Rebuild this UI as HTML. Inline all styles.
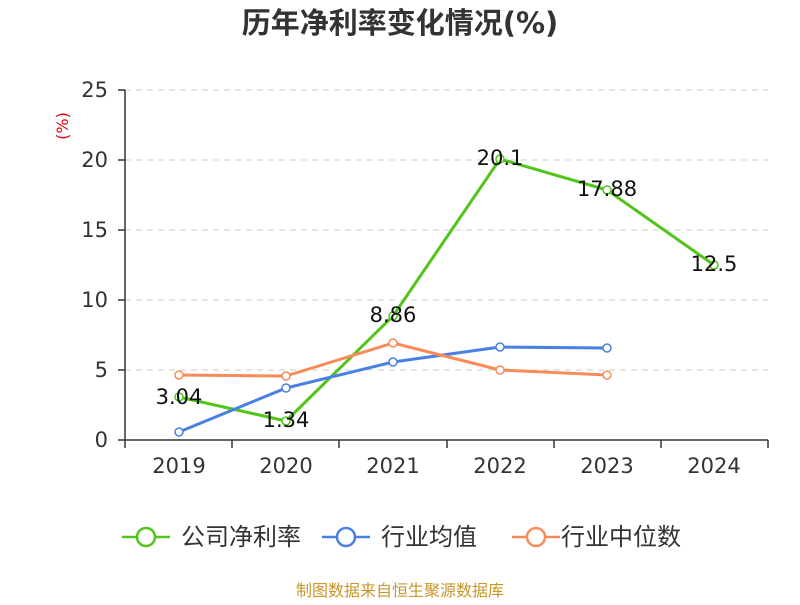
<!DOCTYPE html>
<html><head><meta charset="utf-8"><style>body{margin:0;background:#fff}</style></head><body>
<svg width="800" height="600" xmlns="http://www.w3.org/2000/svg" font-family="DejaVu Sans, Noto Sans CJK SC, sans-serif">
<rect width="800" height="600" fill="#fff"/>
<text x="400" y="33" text-anchor="middle" font-size="29" font-weight="bold" fill="#333">历年净利率变化情况(%)</text>
<text x="68" y="126" font-size="16" fill="#e00" text-anchor="middle" transform="rotate(-90 68 126)">(%)</text>
<g stroke="#ccc" stroke-dasharray="6,5" stroke-width="1">
<line x1="125" y1="90" x2="768" y2="90"/><line x1="125" y1="160" x2="768" y2="160"/><line x1="125" y1="230" x2="768" y2="230"/><line x1="125" y1="300" x2="768" y2="300"/><line x1="125" y1="370" x2="768" y2="370"/>
</g>
<g stroke="#333" stroke-width="1.5">
<line x1="125" y1="90" x2="125" y2="440"/><line x1="125" y1="440" x2="768" y2="440"/>
<line x1="118" y1="90" x2="125" y2="90"/><line x1="118" y1="160" x2="125" y2="160"/><line x1="118" y1="230" x2="125" y2="230"/><line x1="118" y1="300" x2="125" y2="300"/><line x1="118" y1="370" x2="125" y2="370"/><line x1="118" y1="440" x2="125" y2="440"/>
<line x1="125" y1="440" x2="125" y2="448"/><line x1="232" y1="440" x2="232" y2="448"/><line x1="339" y1="440" x2="339" y2="448"/><line x1="447" y1="440" x2="447" y2="448"/><line x1="554" y1="440" x2="554" y2="448"/><line x1="661" y1="440" x2="661" y2="448"/><line x1="768" y1="440" x2="768" y2="448"/>
</g>
<g font-size="21" fill="#333" text-anchor="end">
<text x="108" y="97">25</text><text x="108" y="167">20</text><text x="108" y="237">15</text><text x="108" y="307">10</text><text x="108" y="377">5</text><text x="108" y="447">0</text>
</g>
<g font-size="21" fill="#333" text-anchor="middle">
<text x="179" y="473">2019</text><text x="286" y="473">2020</text><text x="393" y="473">2021</text><text x="500" y="473">2022</text><text x="607" y="473">2023</text><text x="714" y="473">2024</text>
</g>
<g fill="none" stroke-width="3" stroke-linejoin="round">
<polyline stroke="#52c41a" points="179,397 286,421 393,316 500,159 607,190 714,265"/>
<polyline stroke="#4a80e4" points="179,432 286,388 393,362 500,347 607,348"/>
<polyline stroke="#f98b5a" points="179,375 286,376 393,343 500,370 607,375"/>
</g>
<g fill="#fff" stroke-width="1.5">
<g stroke="#52c41a"><circle cx="179" cy="397" r="4"/><circle cx="286" cy="421" r="4"/><circle cx="393" cy="316" r="4"/><circle cx="500" cy="159" r="4"/><circle cx="607" cy="190" r="4"/><circle cx="714" cy="265" r="4"/></g>
<g stroke="#4a80e4"><circle cx="179" cy="432" r="4"/><circle cx="286" cy="388" r="4"/><circle cx="393" cy="362" r="4"/><circle cx="500" cy="347" r="4"/><circle cx="607" cy="348" r="4"/></g>
<g stroke="#f98b5a"><circle cx="179" cy="375" r="4"/><circle cx="286" cy="376" r="4"/><circle cx="393" cy="343" r="4"/><circle cx="500" cy="370" r="4"/><circle cx="607" cy="375" r="4"/></g>
</g>
<g font-size="21" fill="#111" text-anchor="middle">
<text x="179" y="404">3.04</text><text x="286" y="427">1.34</text><text x="393" y="322">8.86</text><text x="500" y="165">20.1</text><text x="607" y="196">17.88</text><text x="714" y="271">12.5</text>
</g>
<g stroke-width="2.5" fill="#fff">
<line x1="122" y1="537" x2="170" y2="537" stroke="#52c41a"/><circle cx="146" cy="537" r="9" stroke="#52c41a"/>
<line x1="322" y1="537" x2="370" y2="537" stroke="#4a80e4"/><circle cx="346" cy="537" r="9" stroke="#4a80e4"/>
<line x1="512" y1="537" x2="560" y2="537" stroke="#f98b5a"/><circle cx="536" cy="537" r="9" stroke="#f98b5a"/>
</g>
<g font-size="24" fill="#333">
<text x="181" y="545">公司净利率</text><text x="381" y="545">行业均值</text><text x="561" y="545">行业中位数</text>
</g>
<text x="400" y="596" text-anchor="middle" font-size="16" fill="#c8962a">制图数据来自恒生聚源数据库</text>
</svg>
</body></html>
